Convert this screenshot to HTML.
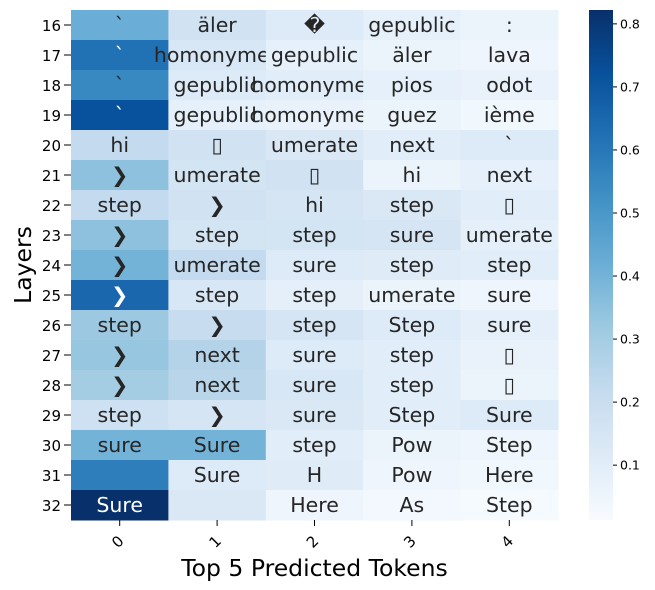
<!DOCTYPE html>
<html><head><meta charset="utf-8"><style>
body{margin:0;background:#fff;}
svg{display:block;font-family:"DejaVu Sans","Liberation Sans","Noto Sans CJK SC",sans-serif;}
</style></head><body>
<svg id="chart" width="655" height="590" xmlns="http://www.w3.org/2000/svg"></svg>
<script>
const layers = [16,17,18,19,20,21,22,23,24,25,26,27,28,29,30,31,32];
const columns = [0,1,2,3,4];
const tokens = [
 ["`","äler","\uFFFD","gepublic",":"],
 ["`","homonymes","gepublic","äler","lava"],
 ["`","gepublic","homonymes","pios","odot"],
 ["`","gepublic","homonymes","guez","ième"],
 ["hi","\u25AF","umerate","next","`"],
 ["❯","umerate","\u25AF","hi","next"],
 ["step","❯","hi","step","\u25AF"],
 ["❯","step","step","sure","umerate"],
 ["❯","umerate","sure","step","step"],
 ["❯","step","step","umerate","sure"],
 ["step","❯","step","Step","sure"],
 ["❯","next","sure","step","\u25AF"],
 ["❯","next","sure","step","\u25AF"],
 ["step","❯","sure","Step","Sure"],
 ["sure","Sure","step","Pow","Step"],
 ["","Sure","H","Pow","Here"],
 ["Sure","","Here","As","Step"]
];
const probs = [
 [0.42,0.17,0.12,0.08,0.06],
 [0.62,0.14,0.08,0.06,0.05],
 [0.55,0.12,0.10,0.08,0.07],
 [0.72,0.08,0.07,0.06,0.04],
 [0.22,0.17,0.13,0.10,0.12],
 [0.35,0.16,0.17,0.06,0.08],
 [0.22,0.17,0.15,0.13,0.10],
 [0.35,0.16,0.16,0.15,0.09],
 [0.40,0.22,0.12,0.11,0.10],
 [0.65,0.14,0.09,0.06,0.05],
 [0.32,0.21,0.15,0.12,0.09],
 [0.33,0.26,0.12,0.10,0.07],
 [0.30,0.25,0.14,0.10,0.06],
 [0.18,0.15,0.13,0.10,0.12],
 [0.40,0.40,0.10,0.06,0.05],
 [0.58,0.12,0.11,0.05,0.04],
 [0.82,0.13,0.05,0.03,0.02]
];
const cbarTicks = [0.1,0.2,0.3,0.4,0.5,0.6,0.7,0.8];
const vmin = 0.013, vmax = 0.822;

const NS = "http://www.w3.org/2000/svg";
const svg = document.getElementById('chart');
const X0 = 71, X1 = 558, Y0 = 10, Y1 = 520;
const cw = (X1 - X0) / columns.length, rh = (Y1 - Y0) / layers.length;
const xPos = i => X0 + i * cw;
const yPos = j => Y0 + j * rh;
const stops = ["#f7fbff","#deebf7","#c6dbef","#9ecae1","#6baed6","#4292c6","#2171b5","#08519c","#08306b"].map(h=>[1,3,5].map(k=>parseInt(h.substr(k,2),16)));
function blues(v){
  let t = Math.max(0, Math.min(1, (v - vmin) / (vmax - vmin))) * (stops.length - 1);
  let i = Math.min(stops.length - 2, Math.floor(t)), f = t - i;
  return stops[i].map((c,k)=>Math.round(c + (stops[i+1][k]-c)*f));
}
function el(tag, attrs, parent){
  const e = document.createElementNS(NS, tag);
  for (const k in attrs) e.setAttribute(k, attrs[k]);
  (parent || svg).appendChild(e);
  return e;
}
layers.forEach((L, j) => {
  columns.forEach((c, i) => {
    const v = probs[j][i];
    const rgb = blues(v);
    const r = el('rect', {x: xPos(i), y: yPos(j), width: cw + 0.5, height: rh + 0.5, fill: `rgb(${rgb.join(',')})`});
    
    
    const lum = (0.2126*rgb[0] + 0.7152*rgb[1] + 0.0722*rgb[2]) / 255;
    const t = el('text', {x: xPos(i) + cw/2, y: yPos(j) + rh/2 + 7, 'text-anchor': 'middle', 'font-size': 20.5, fill: lum < 0.408 ? '#ffffff' : '#262626'});
    t.textContent = tokens[j][i];
    
    
  });
  el('line', {x1: X0 - 7, x2: X0, y1: yPos(j) + rh/2, y2: yPos(j) + rh/2, stroke: '#000', 'stroke-width': 1});
  const yl = el('text', {x: X0 - 10, y: yPos(j) + rh/2 + 6, 'text-anchor': 'end', 'font-size': 15, fill: '#000'});
  yl.textContent = L;
  
  
});
columns.forEach((c, i) => {
  const cx = xPos(i) + cw/2;
  el('line', {x1: cx, x2: cx, y1: Y1, y2: Y1 + 6, stroke: '#000', 'stroke-width': 1});
  const xl = el('text', {x: cx + 5, y: Y1 + 22, 'text-anchor': 'end', 'font-size': 15, fill: '#000', transform: `rotate(-45 ${cx + 5} ${Y1 + 22})`});
  xl.textContent = c;
  
  
});
const xt = el('text', {x: (X0 + X1)/2, y: 576, 'text-anchor': 'middle', 'font-size': 23.5, fill: '#000'});
xt.textContent = 'Top 5 Predicted Tokens';


const yt = el('text', {x: 31, y: (Y0 + Y1)/2, 'text-anchor': 'middle', 'font-size': 23.5, fill: '#000', transform: `rotate(-90 31 ${(Y0 + Y1)/2})`});
yt.textContent = 'Layers';



// colorbar
const CB0 = 589, CB1 = 613;
const cbY = v => Y1 - (v - vmin) / (vmax - vmin) * (Y1 - Y0);
const defs = el('defs', {});
const grad = el('linearGradient', {id: 'cbg', x1: 0, y1: 1, x2: 0, y2: 0}, defs);
stops.forEach((s, k) => el('stop', {offset: k / (stops.length - 1), 'stop-color': `rgb(${s.join(',')})`}, grad));
const cb = el('rect', {x: CB0, y: Y0, width: CB1 - CB0, height: Y1 - Y0, fill: 'url(#cbg)'});


cbarTicks.forEach(v => {
  const y = cbY(v);
  el('line', {x1: CB1, x2: CB1 + 4, y1: y, y2: y, stroke: '#000', 'stroke-width': 1});
  const tl = el('text', {x: CB1 + 7, y: y + 4.5, 'font-size': 12.5, fill: '#000'});
  tl.textContent = v.toFixed(1);
  
  
});
</script>
</body></html>
